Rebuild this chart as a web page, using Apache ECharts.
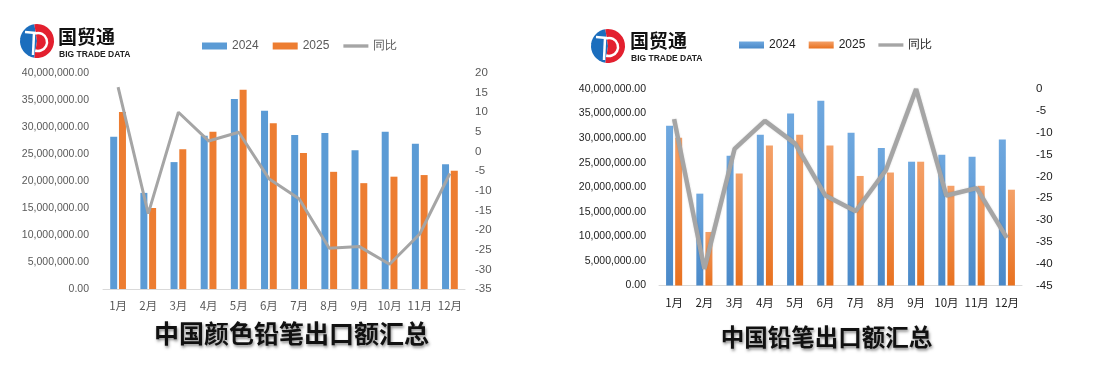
<!DOCTYPE html>
<html><head><meta charset="utf-8">
<script src="https://cdn.jsdelivr.net/npm/echarts@6/dist/echarts.min.js"></script>
<style>html,body{margin:0;padding:0;background:#fff}#c{width:1098px;height:365px}</style>
</head><body><div id="c"></div>
<script>
const months = ['1月','2月','3月','4月','5月','6月','7月','8月','9月','10月','11月','12月'];
// 中国颜色铅笔出口额汇总
const colorPencil2024 = [28200000,17800000,23500000,28400000,35200000,33000000,28500000,28900000,25700000,29100000,26900000,23100000];
const colorPencil2025 = [32800000,15000000,25900000,29100000,36900000,30700000,25200000,21700000,19600000,20800000,21100000,21900000];
const colorPencilYoY = [16.4,-15.8,10.0,2.7,4.9,-6.9,-12.0,-24.6,-24.2,-28.7,-21.0,-5.6];
// 中国铅笔出口额汇总
const pencil2024 = [32500000,18700000,26400000,30700000,35000000,37600000,31100000,28000000,25200000,26600000,26200000,29700000];
const pencil2025 = [30100000,10900000,22800000,28500000,30700000,28500000,22300000,23000000,25200000,20300000,20300000,19500000];
const pencilYoY = [-6.9,-41.2,-13.7,-7.3,-12.5,-24.4,-28.0,-18.6,0,-24.4,-22.7,-34.1];

const leftTicks = {min:0,max:40000000,interval:5000000};
const rightTicksA = {min:-35,max:20,interval:5};
const rightTicksB = {min:-45,max:0,interval:5};

const BLUE='#5B9BD5', ORANGE='#ED7D31', GRAY='#A5A5A5';
const numFont = '"Liberation Sans",sans-serif';
const cjkFont = '"Noto Sans CJK SC",sans-serif';
const fmt = v => v.toLocaleString('en-US',{minimumFractionDigits:2,maximumFractionDigits:2});
const lineIcon = 'path://M0,0 L26,0 L26,3.5 L0,3.5 Z';

function logo(cx, cy, tx, ty){
  return [
    {type:'sector',shape:{cx:cx,cy:cy,r:17,startAngle:Math.PI*0.55,endAngle:Math.PI*1.45},style:{fill:'#1C6EBD'}},
    {type:'sector',shape:{cx:cx,cy:cy,r:17,startAngle:-Math.PI*0.55,endAngle:Math.PI*0.55},style:{fill:'#E3202F'}},
    {type:'arc',shape:{cx:cx+1,cy:cy+1,r:9,startAngle:-Math.PI*0.6,endAngle:Math.PI*0.6,clockwise:true},style:{stroke:'#fff',lineWidth:2.5,fill:null}},
    {type:'line',shape:{x1:cx-12,y1:cy-9,x2:cx-1,y2:cy-8},style:{stroke:'#fff',lineWidth:2.5}},
    {type:'line',shape:{x1:cx-3,y1:cy-8,x2:cx-4,y2:cy+14},style:{stroke:'#fff',lineWidth:2.5}},
    {type:'text',x:tx,y:ty,style:{text:'国贸通',font:'bold 19px "Noto Sans CJK SC"',fill:'#111',textVerticalAlign:'middle'}},
    {type:'text',x:tx+1,y:ty+18,style:{text:'BIG TRADE DATA',font:'bold 8.5px "Liberation Sans Narrow","Liberation Sans"',fill:'#222',textVerticalAlign:'middle'}}
  ];
}

function barGrad(top,bottom){
  return new echarts.graphic.LinearGradient(0,0,0,1,[{offset:0,color:top},{offset:1,color:bottom}]);
}

const chart = echarts.init(document.getElementById('c'));
chart.setOption({
  animation:false,
  backgroundColor:'#fff',
  title:[
    {text:'中国颜色铅笔出口额汇总',left:286.5,top:316,textAlign:'center',
      textStyle:{fontFamily:'"Noto Sans CJK SC"',fontWeight:'bold',fontSize:25,color:'#111',textShadowColor:'rgba(0,0,0,0.45)',textShadowBlur:3,textShadowOffsetX:1,textShadowOffsetY:2}},
    {text:'中国铅笔出口额汇总',left:821.5,top:320,textAlign:'center',
      textStyle:{fontFamily:'"Noto Sans CJK SC"',fontWeight:'bold',fontSize:23.5,color:'#111',textShadowColor:'rgba(0,0,0,0.45)',textShadowBlur:3,textShadowOffsetX:1,textShadowOffsetY:2}}
  ],
  legend:[
    {left:197,top:35,itemWidth:25,itemHeight:7,itemGap:14,textStyle:{fontFamily:numFont,fontSize:12,color:'#595959'},
      data:[{name:'2024',icon:'rect'},{name:'2025',icon:'rect'},{name:'同比',icon:lineIcon}],
      selectedMode:false},
    {left:734,top:34,itemWidth:25,itemHeight:7,itemGap:13,textStyle:{fontFamily:numFont,fontSize:12,color:'#222'},
      data:[{name:'2024 ',icon:'rect'},{name:'2025 ',icon:'rect'},{name:'同比 ',icon:lineIcon}],
      formatter:n=>n.trim(), selectedMode:false}
  ],
  grid:[
    {left:103,top:73,width:362,height:216},
    {left:659,top:89,width:363,height:196.5}
  ],
  xAxis:[
    {type:'category',gridIndex:0,data:months,axisTick:{show:false},axisLine:{lineStyle:{color:'#D9D9D9'}},
      axisLabel:{fontFamily:cjkFont,fontSize:11.5,color:'#595959',margin:11,interval:0}},
    {type:'category',gridIndex:1,data:months,axisTick:{show:false},axisLine:{lineStyle:{color:'#D9D9D9'}},
      axisLabel:{fontFamily:cjkFont,fontSize:11.5,color:'#222',margin:11,interval:0}}
  ],
  yAxis:[
    {type:'value',gridIndex:0,min:leftTicks.min,max:leftTicks.max,interval:leftTicks.interval,splitLine:{show:false},
      axisLabel:{formatter:fmt,fontFamily:numFont,fontSize:10.5,color:'#595959',margin:14}},
    {type:'value',gridIndex:0,position:'right',min:rightTicksA.min,max:rightTicksA.max,interval:rightTicksA.interval,splitLine:{show:false},
      axisLabel:{fontFamily:numFont,fontSize:11.5,color:'#595959',margin:10}},
    {type:'value',gridIndex:1,min:leftTicks.min,max:leftTicks.max,interval:leftTicks.interval,splitLine:{show:false},
      axisLabel:{formatter:fmt,fontFamily:numFont,fontSize:10.5,color:'#222',margin:13}},
    {type:'value',gridIndex:1,position:'right',min:rightTicksB.min,max:rightTicksB.max,interval:rightTicksB.interval,splitLine:{show:false},
      axisLabel:{fontFamily:numFont,fontSize:11.5,color:'#222',margin:14}}
  ],
  series:[
    {name:'2024',type:'bar',xAxisIndex:0,yAxisIndex:0,data:colorPencil2024,barWidth:7,barGap:'25%',itemStyle:{color:BLUE}},
    {name:'2025',type:'bar',xAxisIndex:0,yAxisIndex:0,data:colorPencil2025,barWidth:7,barGap:'25%',itemStyle:{color:ORANGE}},
    {name:'同比',type:'line',xAxisIndex:0,yAxisIndex:1,data:colorPencilYoY,symbol:'none',lineStyle:{color:GRAY,width:3},itemStyle:{color:GRAY},z:5},
    {name:'2024 ',type:'bar',xAxisIndex:1,yAxisIndex:2,data:pencil2024,barWidth:7,barGap:'30%',itemStyle:{color:barGrad('#6FA8DF','#4A89C8')}},
    {name:'2025 ',type:'bar',xAxisIndex:1,yAxisIndex:2,data:pencil2025,barWidth:7,barGap:'30%',itemStyle:{color:barGrad('#F4A169','#E8711F')}},
    {name:'同比 ',type:'line',xAxisIndex:1,yAxisIndex:3,data:pencilYoY,symbol:'none',lineStyle:{color:GRAY,width:4.5,shadowColor:'rgba(0,0,0,0.15)',shadowBlur:2},itemStyle:{color:GRAY},z:5}
  ],
  graphic:[].concat(logo(37,41,58,37), logo(608,46,630,41))
});
</script></body></html>
